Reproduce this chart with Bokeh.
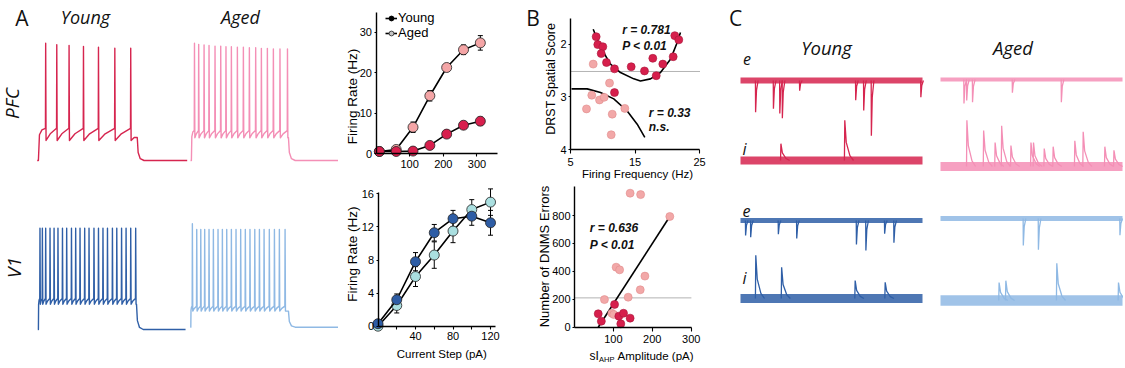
import math
from bokeh.plotting import figure
from bokeh.layouts import row, column
from bokeh.models import (Range1d, Label, Whisker, TeeHead, ColumnDataSource,
                          FixedTicker, Legend, LegendItem)
from bokeh.embed import file_html
from bokeh.resources import INLINE

# ======================= DATA =======================
# Panel A - firing rate vs current step
pfc_current_pA = [10, 60, 110, 160, 210, 260, 310]
pfc_young_hz = [0.5, 0.5, 0.6, 2.0, 4.8, 7.0, 8.0]
pfc_young_sem = [0.2, 0.3, 0.3, 0.4, 0.6, 0.8, 1.0]
pfc_aged_hz = [0.5, 1.0, 6.5, 14.3, 21.3, 25.7, 27.4]
pfc_aged_sem = [0.3, 0.4, 1.3, 1.3, 1.0, 1.2, 1.8]

v1_current_pA = [0, 20, 40, 60, 80, 100, 120]
v1_young_hz = [0.3, 3.2, 7.8, 11.3, 13.0, 13.3, 12.5]
v1_young_sem = [0.2, 0.7, 1.1, 1.0, 1.0, 1.1, 1.5]
v1_aged_hz = [0.0, 2.5, 6.0, 8.6, 11.5, 14.1, 15.0]
v1_aged_sem = [0.2, 0.9, 1.2, 1.6, 1.4, 1.2, 1.6]

# Panel A - example current-clamp traces (spike times in ms, peaks in mV)
pfc_young_spikes_ms = [55, 129, 211, 307, 407, 516, 622]
pfc_young_peaks_mV = [32, 30.6, 30, 29.1, 28.5, 27.7, 27.7]
pfc_young_levels_mV = [-70, -42, -52.6, -50]      # rest, threshold, AHP, plateau
pfc_aged_spikes_ms = [25, 53, 89, 122, 162, 200, 235, 271, 311, 351, 391, 433,
                      471, 511, 551, 595, 645]
pfc_aged_peaks_mV = [32, 31, 30.5, 30, 29.5, 29.5, 29, 29, 28.5, 28.5, 28, 28,
                     27.5, 27.5, 27, 27, 27]
pfc_aged_levels_mV = [-70, -44, -50.3, -50]
v1_young_spikes_ms = [13, 29, 51, 80, 107, 133, 163, 191, 223, 251, 280, 311,
                      340, 373, 403, 433, 463, 496, 525, 557, 587, 618, 651]
v1_young_peaks_mV = [18] * 23
v1_young_levels_mV = [-70, -43, -48, -48]
v1_aged_spikes_ms = [11, 40, 67, 93, 122, 151, 182, 211, 240, 271, 302, 333,
                     364, 395, 427, 458, 489, 524, 558, 591, 629]
v1_aged_peaks_mV = [20] + [15] * 20
v1_aged_levels_mV = [-70, -51.7, -56, -56]
step_on_ms = [8, 6, 4, 2]          # pfc young, pfc aged, v1 young, v1 aged
step_off_ms = [667, 653, 658, 653]
sweep_end_ms = [1000, 990, 985, 990]

# Panel B - DRST score vs firing frequency
b1_young_hz = [8.98, 9.23, 10.01, 9.76, 10.58, 11.82, 14.41, 16.47, 17.76,
               18.29, 19.31, 20.92, 21.17, 21.79, 11.82]
b1_young_score = [1.86, 2.01, 2.05, 2.18, 2.35, 2.47, 2.43, 2.51, 2.27,
                  2.60, 2.38, 2.24, 1.84, 1.92, 2.92]
b1_aged_hz = [8.52, 11.05, 8.30, 7.48, 9.50, 10.22, 11.47, 13.42, 11.31]
b1_aged_score = [2.38, 2.74, 2.97, 3.23, 3.06, 3.01, 3.33, 3.22, 3.72]
b1_fit1_x = [8.52, 9.65, 11.2, 12.75, 14.81, 15.85, 17.4, 18.95, 20.5, 21.54, 22.05]
b1_fit1_y = [1.72, 2.06, 2.38, 2.54, 2.66, 2.70, 2.66, 2.54, 2.29, 1.97, 1.78]
b1_fit2_x = [5.16, 7.59, 9.65, 11.71, 13.79, 15.34, 16.52]
b1_fit2_y = [2.85, 2.85, 2.92, 3.04, 3.27, 3.52, 3.77]
b1_criterion = 2.52

# Panel B - DNMS errors vs sIAHP amplitude
b2_aged_pA = [143, 170, 245, 107, 116, 181, 169, 77, 138, 96, 101]
b2_aged_err = [960, 950, 793, 430, 411, 366, 268, 198, 215, 100, 91]
b2_young_pA = [61, 69, 103, 114, 126, 119, 143]
b2_young_err = [96, 43, 163, 79, 100, 24, 65]
b2_fit_x = [61, 245]
b2_fit_y = [0, 793]
b2_criterion = 210

# Panel C - spontaneous events (time ms, amplitude pA), noise peak-to-peak pA
c_pfc_young_e_t = [82, 180, 215, 229, 324, 632, 676, 718, 990]
c_pfc_young_e_a = [53, 47, 55, 63, 17, 33, 50, 92, 28]
c_pfc_aged_e_t = [128, 143, 175, 394, 663]
c_pfc_aged_e_a = [40, 35, 38, 22, 38]
c_pfc_young_i_t = [220, 571]
c_pfc_young_i_a = [28, 67]
c_pfc_aged_i_t = [143, 235, 298, 334, 385, 495, 509, 568, 617, 736, 782, 901, 951]
c_pfc_aged_i_a = [77, 60, 40, 68, 35, 40, 40, 30, 33, 43, 58, 33, 27]
c_v1_young_e_t = [27, 55, 207, 308, 636, 688, 791, 842]
c_v1_young_e_a = [25, 28, 23, 30, 40, 50, 22, 37]
c_v1_aged_e_t = [454, 537, 985]
c_v1_aged_e_a = [45, 52, 28]
c_v1_young_i_t = [82, 224, 628, 793]
c_v1_young_i_a = [72, 52, 30, 27]
c_v1_aged_i_t = [320, 357, 637, 976]
c_v1_aged_i_a = [30, 33, 62, 30]
c_noise_pp_pA = [15, 10, 20, 23, 13, 12, 23, 27]

# ======================= STYLE =======================
FONT = "Liberation Sans"
TITLE = "Open Sans"
RED, PINK = "#d6254f", "#f48fb6"
BLUE, LBLUE = "#2f5fa7", "#8fb9e4"
PT_RED, PT_PINK = "#d81f4d", "#f4a5a6"
PT_BLUE, PT_CYAN = "#2e5da5", "#aadfe0"
NAN = float("nan")


def canvas(w, h, x0, x1):
    p = figure(width=w, height=h, x_range=Range1d(x0, x1), y_range=Range1d(h, 0),
               output_backend="svg", toolbar_location=None, min_border=0,
               x_axis_type=None, y_axis_type=None)
    p.outline_line_color = None
    p.xgrid.visible = False
    p.ygrid.visible = False
    return p


def make_chart(fig_box, ax_box, xr, yr):
    fx, fy, fw, fh = fig_box
    al, ar, at, ab = ax_box
    kx = (ar - al) / (xr[1] - xr[0])
    ky = (ab - at) / (yr[1] - yr[0])
    x0 = xr[0] - (al - fx) / kx
    x1 = xr[1] + (fx + fw - ar) / kx
    y0 = yr[0] - (fy + fh - ab) / ky
    y1 = yr[1] + (at - fy) / ky
    p = figure(width=fw, height=fh, x_range=Range1d(x0, x1), y_range=Range1d(y0, y1),
               output_backend="svg", toolbar_location=None, min_border=0)
    p.outline_line_color = None
    p.xgrid.visible = False
    p.ygrid.visible = False
    p.xaxis.fixed_location = yr[0]
    p.yaxis.fixed_location = xr[0]
    p.xaxis.bounds = (xr[0], xr[1])
    p.yaxis.bounds = (min(yr), max(yr))
    for ax in (p.xaxis[0], p.yaxis[0]):
        ax.axis_line_color = "black"
        ax.axis_line_width = 1.4
        ax.major_tick_line_color = "black"
        ax.major_tick_line_width = 1.1
        ax.minor_tick_line_color = None
        ax.major_tick_in = 0
        ax.major_label_text_font = FONT
        ax.major_label_text_font_size = "11px"
        ax.major_label_text_color = "black"
    p.xaxis.major_tick_out = 3
    p.xaxis.major_label_standoff = 3
    p.yaxis.major_tick_out = 2
    p.yaxis.major_label_standoff = 2

    def X(px):
        return xr[0] + (px - al) / kx

    def Y(py):
        return yr[0] + (ab - py) / ky
    return p, X, Y


def axis_title(p, X, Y, txt, px, py, size, vertical):
    p.add_layout(Label(x=X(px), y=Y(py), text=txt, text_font=FONT, text_font_size=size,
                       text_align="center", text_baseline="middle", text_color="black",
                       angle=math.pi / 2 if vertical else 0))


def spike_trace(spikes, peaks, levels, t_on, t_off, t_end):
    rest, thr, ahp, plat = levels
    ts = [0, t_on]
    vs = [rest, rest]
    d = spikes[0] - t_on
    ts += [t_on + 0.15 * d, t_on + 0.5 * d]
    vs += [rest + 0.8 * (thr - rest), rest + 0.95 * (thr - rest)]
    for i, (s, pk) in enumerate(zip(spikes, peaks)):
        ts += [s, s + 1.5, s + 4]
        vs += [thr, pk, ahp]
        if i + 1 < len(spikes):
            g = spikes[i + 1] - (s + 4)
            ts += [s + 4 + 0.4 * g]
            vs += [ahp + 0.55 * (thr - ahp)]
        else:
            g = t_off - (s + 4)
            ts += [s + 4 + 0.5 * g, t_off]
            vs += [plat, plat]
    ts += [t_off + 6, t_off + 20, t_off + 45, t_end]
    vs += [rest + 0.35 * (plat - rest), rest + 0.08 * (plat - rest), rest, rest]
    return ts, vs


# ======================= PANEL A traces =======================
pa = canvas(338, 366, 0, 338)
KT, KV = 0.15, 1.15
traces = [
    (pfc_young_spikes_ms, pfc_young_peaks_mV, pfc_young_levels_mV, 36.7, 160, RED),
    (pfc_aged_spikes_ms, pfc_aged_peaks_mV, pfc_aged_levels_mV, 190, 160, PINK),
    (v1_young_spikes_ms, v1_young_peaks_mV, v1_young_levels_mV, 37.3, 329, BLUE),
    (v1_aged_spikes_ms, v1_aged_peaks_mV, v1_aged_levels_mV, 190, 326.7, LBLUE),
]
for k, (sp, pk, lv, x0, yb, col) in enumerate(traces):
    ts, vs = spike_trace(sp, pk, lv, step_on_ms[k], step_off_ms[k], sweep_end_ms[k])
    xs = [x0 + t * KT for t in ts]
    ys = [yb - (v - lv[0]) * KV for v in vs]
    pa.line(xs, ys, line_color=col, line_width=1.4, line_join="round")

for txt, x, y, size, style, ang in [
        ("A", 21.5, 17.5, "21px", "normal", 0),
        ("Young", 85, 16, "18px", "italic", 0),
        ("Aged", 240, 16, "18px", "italic", 0),
        ("PFC", 11, 103, "19px", "italic", math.pi / 2),
        ("V1", 13, 267, "19px", "italic", math.pi / 2)]:
    pa.add_layout(Label(x=x, y=y, text=txt, text_font=TITLE, text_font_size=size,
                        text_font_style=style, text_align="center",
                        text_baseline="middle", angle=ang, text_color="#111111"))


# ======================= PANEL A charts =======================
def fi_chart(p, xs, ys_list, sems, fills):
    for yv, se, fc in zip(ys_list, sems, fills):
        src = ColumnDataSource(dict(x=xs, y=yv,
                                    lo=[a - b for a, b in zip(yv, se)],
                                    hi=[a + b for a, b in zip(yv, se)]))
        p.add_layout(Whisker(source=src, base="x", upper="hi", lower="lo",
                             line_color="black", line_width=1,
                             upper_head=TeeHead(size=5, line_color="black", line_width=1),
                             lower_head=TeeHead(size=5, line_color="black", line_width=1)))
        p.line("x", "y", source=src, line_color="black", line_width=1.6)
        p.scatter("x", "y", source=src, size=10, fill_color=fc,
                  line_color="#222222", line_width=0.8)


a1, aX1, aY1 = make_chart((338, 0, 167, 180), (375.5, 497, 11.7, 153), (0, 361), (0, 35))
fi_chart(a1, pfc_current_pA, [pfc_aged_hz, pfc_young_hz], [pfc_aged_sem, pfc_young_sem],
         [PT_PINK, PT_RED])
a1.xaxis.ticker = FixedTicker(ticks=[100, 200, 300])
a1.yaxis.ticker = FixedTicker(ticks=[0, 10, 20, 30])
axis_title(a1, aX1, aY1, "Firing Rate (Hz)", 352, 96, "13.5px", True)
ly1 = a1.line([NAN], [NAN], line_color="black", line_width=1.6)
ly2 = a1.scatter([NAN], [NAN], size=7, fill_color="black", line_color="black")
la1 = a1.line([NAN], [NAN], line_color="black", line_width=1.6)
la2 = a1.scatter([NAN], [NAN], size=7, fill_color="#c4c4c4", line_color="#444444")
leg = Legend(items=[LegendItem(label="Young", renderers=[ly1, ly2]),
                    LegendItem(label="Aged", renderers=[la1, la2])],
             location=(47, 140), margin=0, padding=0, spacing=0,
             glyph_width=12, glyph_height=14, label_height=14, label_standoff=1,
             label_text_font=FONT, label_text_font_size="13px",
             label_text_color="black",
             background_fill_alpha=0, border_line_color=None)
a1.add_layout(leg)

a2, aX2, aY2 = make_chart((338, 180, 167, 186), (377.5, 495, 191.7, 325.7), (0, 125.3), (0, 16.2))
fi_chart(a2, v1_current_pA, [v1_aged_hz, v1_young_hz], [v1_aged_sem, v1_young_sem],
         [PT_CYAN, PT_BLUE])
a2.xaxis.ticker = FixedTicker(ticks=[20, 40, 60, 80, 100, 120])
a2.xaxis.major_label_overrides = {20: "", 60: "", 100: ""}
a2.yaxis.ticker = FixedTicker(ticks=[0, 4, 8, 12, 16])
axis_title(a2, aX2, aY2, "Firing Rate (Hz)", 352, 253.7, "13.5px", True)
axis_title(a2, aX2, aY2, "Current Step (pA)", 441.3, 353, "11.5px", False)

# ======================= PANEL B =======================
b1, bX1, bY1 = make_chart((505, 0, 210, 180), (570, 699, 18, 149), (5, 25), (4, 1.515))
b1.line([5, 25], [b1_criterion, b1_criterion], line_color="#555555", line_width=0.9,
        line_dash="1 1")
b1.line(b1_fit1_x, b1_fit1_y, line_color="black", line_width=1.6)
b1.line(b1_fit2_x, b1_fit2_y, line_color="black", line_width=1.6)
b1.scatter(b1_aged_hz, b1_aged_score, size=8, fill_color="#f2a8a8", line_color="#e08c8c",
           line_width=0.6)
b1.scatter(b1_young_hz, b1_young_score, size=8, fill_color="#d61f4c", line_color="#a8173b",
           line_width=0.6)
b1.xaxis.ticker = FixedTicker(ticks=[5, 15, 25])
b1.yaxis.ticker = FixedTicker(ticks=[2, 3, 4])
b1.xaxis.major_tick_out = 4
b1.xaxis.major_label_standoff = 4
axis_title(b1, bX1, bY1, "DRST Spatial Score", 550, 78.3, "12.5px", True)
axis_title(b1, bX1, bY1, "Firing Frequency (Hz)", 637, 173, "11.5px", False)
for txt, px, py in [("r = 0.781", 621.7, 29.3), ("P < 0.01", 621.7, 45),
                    ("r = 0.33", 648.3, 112.3), ("n.s.", 648.3, 126.7)]:
    b1.add_layout(Label(x=bX1(px), y=bY1(py), text=txt, text_font=FONT,
                        text_font_size="12px", text_font_style="bold italic",
                        text_align="left", text_baseline="middle", text_color="#111111"))
b1.add_layout(Label(x=bX1(532.5), y=bY1(17.5), text="B", text_font=TITLE,
                    text_font_size="21px", text_align="center", text_baseline="middle",
                    text_color="#111111"))

b2, bX2, bY2 = make_chart((505, 180, 210, 186), (574, 690.7, 186, 326.7), (0, 300), (0, 1008))
b2.line([0, 300], [b2_criterion, b2_criterion], line_color="#555555", line_width=0.9,
        line_dash="1 1")
b2.line(b2_fit_x, b2_fit_y, line_color="black", line_width=1.6)
b2.scatter(b2_aged_pA, b2_aged_err, size=8, fill_color="#f2a8a8", line_color="#e08c8c",
           line_width=0.6)
b2.scatter(b2_young_pA, b2_young_err, size=8, fill_color="#d61f4c", line_color="#a8173b",
           line_width=0.6)
b2.xaxis.ticker = FixedTicker(ticks=[100, 200, 300])
b2.yaxis.ticker = FixedTicker(ticks=[0, 200, 400, 600, 800])
b2.xaxis.major_tick_out = 4
b2.xaxis.major_label_standoff = 4
axis_title(b2, bX2, bY2, "Number of DNMS Errors", 544, 256, "13px", True)
for txt, px, py in [("r = 0.636", 589.3, 227.7), ("P < 0.01", 589.3, 244.3)]:
    b2.add_layout(Label(x=bX2(px), y=bY2(py), text=txt, text_font=FONT,
                        text_font_size="12px", text_font_style="bold italic",
                        text_align="left", text_baseline="middle", text_color="#111111"))
for txt, px, py, fs in [("sI", 589, 355, "12px"), ("AHP", 598.5, 358.5, "7.5px"),
                        ("Amplitude (pA)", 617, 355, "11.5px")]:
    b2.add_layout(Label(x=bX2(px), y=bY2(py), text=txt, text_font=FONT,
                        text_font_size=fs, text_align="left", text_baseline="middle",
                        text_color="black"))

# ======================= PANEL C =======================
pc = canvas(408, 366, 715, 1123)
CT, CA = 0.182, 0.6
K_E = [(0, 0), (1, 1), (6, 0.3), (15, 0)]
K_I = [(0, 0), (2, 1), (10, 0.45), (30, 0.12), (50, 0)]
ctraces = [
    (c_pfc_young_e_t, c_pfc_young_e_a, 740, 80, RED, K_E, 1),
    (c_pfc_aged_e_t, c_pfc_aged_e_a, 940, 79, PINK, K_E, 1),
    (c_pfc_young_i_t, c_pfc_young_i_a, 740, 160, RED, K_I, -1),
    (c_pfc_aged_i_t, c_pfc_aged_i_a, 940, 166, PINK, K_I, -1),
    (c_v1_young_e_t, c_v1_young_e_a, 740, 220, BLUE, K_E, 1),
    (c_v1_aged_e_t, c_v1_aged_e_a, 940, 218, LBLUE, K_E, 1),
    (c_v1_young_i_t, c_v1_young_i_a, 740, 298, BLUE, K_I, -1),
    (c_v1_aged_i_t, c_v1_aged_i_a, 940, 300, LBLUE, K_I, -1),
]
for k, (tt, aa, x0, yb, col, ker, sgn) in enumerate(ctraces):
    half = c_noise_pp_pA[k] * CA * 0.33
    pc.quad(left=[x0], right=[x0 + 1000 * CT], top=[yb - half], bottom=[yb + half],
            fill_color=col, fill_alpha=0.85, line_color=None)
    xs = [[x0 + (t + dt) * CT for dt, f in ker] for t in tt]
    ys = [[yb + sgn * f * a * CA for dt, f in ker] for t, a in zip(tt, aa)]
    pc.multi_line(xs, ys, line_color=col, line_width=1.3)

for txt, x, y, size, style in [
        ("C", 735, 17.5, "21px", "normal"),
        ("Young", 826, 47, "18.5px", "italic"),
        ("Aged", 1012.5, 47, "18.5px", "italic"),
        ("e", 746.5, 58, "16px", "italic"),
        ("i", 744, 148, "16px", "italic"),
        ("e", 746, 210.5, "16px", "italic"),
        ("i", 744, 277.5, "16px", "italic")]:
    pc.add_layout(Label(x=x, y=y, text=txt, text_font=TITLE, text_font_size=size,
                        text_font_style=style, text_align="center",
                        text_baseline="middle", text_color="#111111"))

layout = row(pa, column(a1, a2), column(b1, b2), pc)
open("out.html", "w").write(file_html(layout, INLINE))
